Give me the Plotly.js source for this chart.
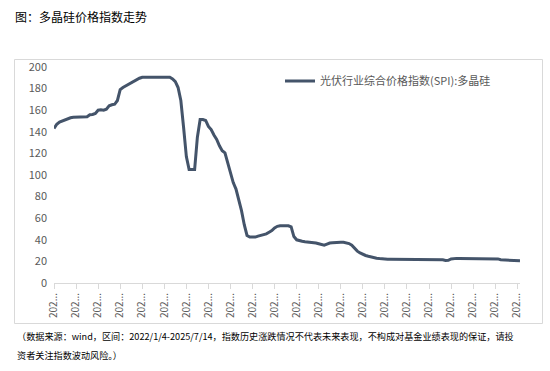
<!DOCTYPE html>
<html>
<head>
<meta charset="utf-8">
<script src="https://cdn.plot.ly/plotly-3.0.1.min.js"></script>
<style>html,body{margin:0;padding:0;background:#fff;}#chart{width:550px;height:371px;}</style>
</head>
<body>
<div id="chart"></div>
<script>
// Weekly observations (index = week number from 2022/1/4 to 2025/7/14)
const seriesName = "光伏行业综合价格指数(SPI):多晶硅";
const spiValues = [
  143, 147, 149, 150, 151, 152.5, 153, 153.5, 153.5, 153.8,
  154, 154, 154, 155.8, 156, 157, 160, 160.4, 160, 161,
  164, 165, 165.5, 169, 179, 181, 182.5, 183.5, 185.5, 187,
  188, 189.6, 190.5, 190.5, 190.5, 190.5, 190.5, 190.5, 190.5, 190.5,
  190.5, 190.5, 190.5, 189, 186.5, 181, 169, 144, 117, 105,
  105, 105, 135, 151.4, 151.4, 150.5, 145, 142, 137, 133,
  127, 122.5, 120.5, 111, 101, 93, 87, 78, 67, 54,
  44, 42.5, 42.5, 42.5, 43.4, 44, 44.5, 45.5, 47, 48.5,
  51, 52.5, 53, 53.2, 53.2, 53, 52, 43, 40, 39,
  38.7, 38.2, 38, 37.6, 37.4, 37, 36.3, 35.8, 35, 36,
  37, 37.2, 37.6, 37.8, 37.8, 37.7, 37.4, 36.5, 35, 32,
  29.5, 27.8, 26.5, 25.5, 24.8, 24, 23.5, 23, 22.6, 22.2,
  22, 22, 22, 22, 22, 22, 22, 22, 22, 22,
  22, 22, 22, 22, 22, 22, 22, 22, 22, 22,
  22, 21.5, 20.8, 21, 22.3, 22.8, 22.8, 22.8, 22.8, 22.8,
  22.8, 22.8, 22.8, 22.8, 22.8, 22.8, 22.8, 22.8, 22.8, 22.8,
  22.8, 22.3, 21.5, 21.3, 21.2, 21.2, 21, 20.8, 20.6, 20.6
];
const weekIndex = spiValues.map((_, i) => i);
const xTickPositions = [0, 8, 16, 24, 32, 40, 48, 56, 64, 72, 80, 88, 96, 104, 112, 120, 128, 136, 144, 152, 160, 168];
const xTickLabels = xTickPositions.map(() => "202...");
const yTickValues = [0, 20, 40, 60, 80, 100, 120, 140, 160, 180, 200];

const chartTitle = "图：多晶硅价格指数走势";
const noteLine1 = "（数据来源：wind，区间：2022/1/4-2025/7/14，指数历史涨跌情况不代表未来表现，不构成对基金业绩表现的保证，请投";
const noteLine2 = "资者关注指数波动风险。）";

const FONT = "'Noto Sans CJK SC', 'Noto Sans', sans-serif";

const trace = {
  x: weekIndex,
  y: spiValues,
  type: "scatter",
  mode: "lines",
  name: seriesName,
  line: {color: "#44546A", width: 3}
};

const plotL = 54, plotR = 520, plotT = 67, plotB = 283;
const px2x = px => (px - plotL) / (plotR - plotL);
const px2y = py => (plotB - py) / (plotB - plotT);

const layout = {
  width: 550,
  height: 371,
  margin: {l: plotL, r: 550 - plotR, t: plotT, b: 371 - plotB, pad: 0},
  paper_bgcolor: "#ffffff",
  plot_bgcolor: "#ffffff",
  font: {family: FONT, color: "#595959", size: 11},
  title: {
    text: chartTitle,
    font: {family: FONT, size: 12, color: "#000000"},
    xref: "container", yref: "container",
    x: 15 / 550, xanchor: "left",
    y: 1 - 18 / 371, yanchor: "middle"
  },
  showlegend: true,
  legend: {
    x: px2x(280), xanchor: "left",
    y: px2y(81), yanchor: "middle",
    bgcolor: "rgba(0,0,0,0)",
    font: {family: FONT, size: 11, color: "#595959"},
    itemwidth: 30
  },
  xaxis: {
    range: [0, 169],
    showgrid: false,
    zeroline: false,
    showline: true,
    linecolor: "#d9d9d9",
    linewidth: 1,
    ticks: "outside",
    ticklen: 5,
    tickcolor: "#d9d9d9",
    tickmode: "array",
    tickvals: xTickPositions,
    ticktext: xTickLabels,
    tickangle: -90,
    tickfont: {family: FONT, size: 10, color: "#595959"},
    fixedrange: true
  },
  yaxis: {
    range: [0, 200],
    showgrid: false,
    zeroline: false,
    showline: false,
    ticks: "",
    tickmode: "array",
    tickvals: yTickValues,
    ticklabelstandoff: 6,
    tickfont: {family: FONT, size: 11, color: "#595959"},
    fixedrange: true
  },
  shapes: [{
    type: "rect", xref: "paper", yref: "paper",
    x0: px2x(14.5), x1: px2x(542.5), y0: px2y(323.5), y1: px2y(59.5),
    line: {color: "#d9d9d9", width: 1}, fillcolor: "rgba(0,0,0,0)", layer: "below"
  }],
  annotations: [
    {text: noteLine1, xref: "paper", yref: "paper", x: px2x(15), y: px2y(336), xanchor: "left", yanchor: "middle",
     showarrow: false, font: {family: FONT, size: 9.15, color: "#000000"}},
    {text: noteLine2, xref: "paper", yref: "paper", x: px2x(15), y: px2y(355), xanchor: "left", yanchor: "middle",
     showarrow: false, font: {family: FONT, size: 9.15, color: "#000000"}}
  ]
};

Plotly.newPlot("chart", [trace], layout, {displayModeBar: false, staticPlot: true});
</script>
</body>
</html>
